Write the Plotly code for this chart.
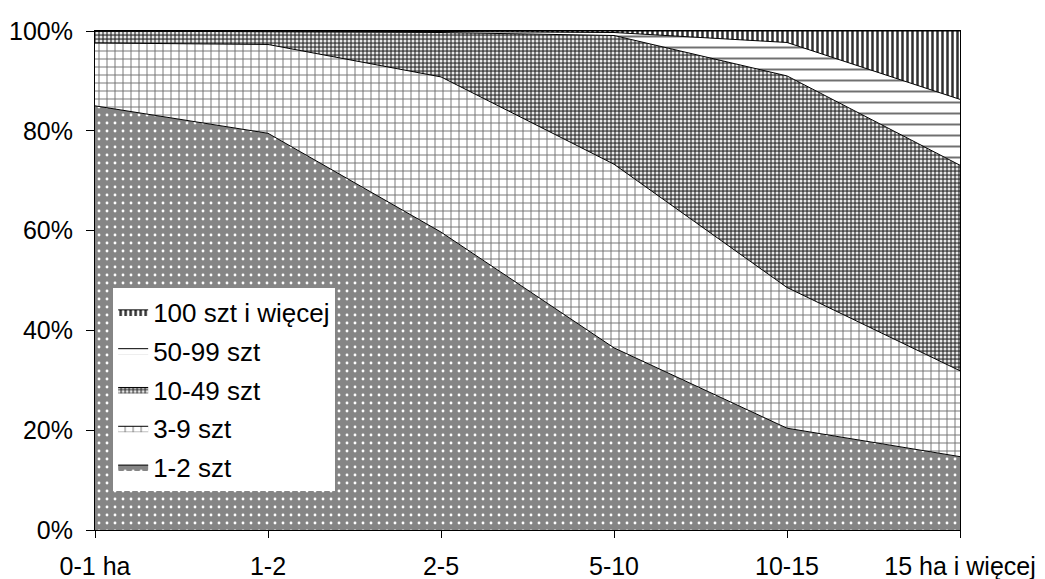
import plotly.graph_objects as go

categories = ["0-1 ha", "1-2", "2-5", "5-10", "10-15", "15 ha i więcej"]
s_1_2 = [85.0, 79.5, 59.7, 36.5, 20.4, 14.7]
s_3_9 = [12.6, 17.8, 31.1, 36.8, 28.2, 17.2]
s_10_49 = [2.4, 2.6, 8.9, 25.8, 42.4, 41.2]
s_50_99 = [0.0, 0.1, 0.2, 0.6, 6.7, 13.2]
s_100 = [0.0, 0.0, 0.1, 0.3, 2.3, 13.7]
series_names = ["1-2 szt", "3-9 szt", "10-49 szt", "50-99 szt", "100 szt i więcej"]
y_ticks = [0, 20, 40, 60, 80, 100]
y_ticktext = ["0%", "20%", "40%", "60%", "80%", "100%"]

x = list(range(len(categories)))

patterns = [
    dict(shape=".", bgcolor="#858585", fgcolor="#ffffff", size=8, solidity=0.1, fillmode="replace"),
    dict(shape="+", bgcolor="#ffffff", fgcolor="#6e6e6e", size=8, solidity=0.22, fillmode="replace"),
    dict(shape=".", bgcolor="#4a4a4a", fgcolor="#e8e8e8", size=4, solidity=0.45, fillmode="replace"),
    dict(shape="-", bgcolor="#ffffff", fgcolor="#707070", size=11, solidity=0.18, fillmode="replace"),
    dict(shape="|", bgcolor="#ffffff", fgcolor="#303030", size=5, solidity=0.5, fillmode="replace"),
]

n = len(series_names)
fig = go.Figure()
for i, (name, vals, pat) in enumerate(zip(series_names, [s_1_2, s_3_9, s_10_49, s_50_99, s_100], patterns)):
    fig.add_trace(go.Scatter(
        x=x, y=vals, name=name, mode="lines",
        stackgroup="one", groupnorm="percent",
        line=dict(color="black", width=1),
        fillpattern=pat,
        legendgroup="g%d" % i,
        legendrank=n - i,
        hoverinfo="skip",
    ))

font_family = "Arial, Liberation Sans, sans-serif"

# page body has an 8px margin: shrink the figure accordingly
fig.update_layout(
    width=1037, height=571,
    margin=dict(l=87, r=85, t=23, b=49),
    paper_bgcolor="white", plot_bgcolor="white",
    font=dict(family=font_family, size=25, color="black"),
    showlegend=True,
    legend=dict(
        x=0.021, y=0.484, xanchor="left", yanchor="top",
        bgcolor="white", borderwidth=0,
        traceorder="grouped",
        tracegroupgap=2,
        font=dict(family=font_family, size=26, color="black"),
        itemwidth=30,
    ),
    xaxis=dict(
        range=[0, 5], tickvals=x, ticktext=categories,
        ticks="outside", ticklen=7, tickcolor="black", tickwidth=1,
        showline=True, linecolor="black", linewidth=1, mirror=True,
        showgrid=False, zeroline=False, ticklabelstandoff=7,
        automargin=False,
    ),
    yaxis=dict(
        range=[0, 100], tickvals=y_ticks, ticktext=y_ticktext,
        ticks="outside", ticklen=8, tickcolor="black", tickwidth=1,
        showline=True, linecolor="black", linewidth=1, mirror=True,
        showgrid=False, zeroline=False, ticklabelstandoff=8,
        automargin=False,
    ),
)

fig.write_html("out.html")
